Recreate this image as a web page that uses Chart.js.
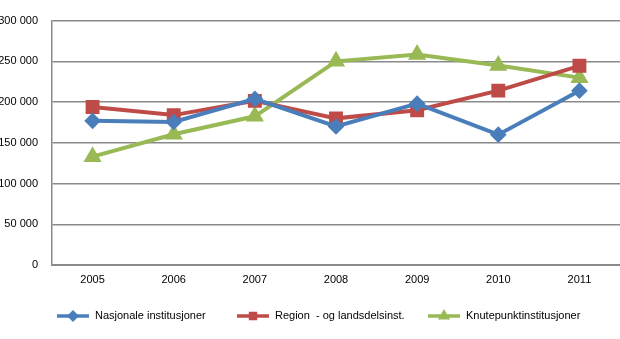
<!DOCTYPE html>
<html lang="no">
<head>
  <meta charset="UTF-8" />
  <title>Institusjoner 2005-2011</title>
  <script src="https://cdn.jsdelivr.net/npm/chart.js"></script>
  <style>
    html, body { margin: 0; padding: 0; background: #fff; }
    #wrap { width: 620px; height: 339px; position: relative; }
  </style>
</head>
<body>
  <div id="wrap"><canvas id="chart"></canvas></div>

  <script>
    // data
    const years = ['2005', '2006', '2007', '2008', '2009', '2010', '2011'];
    const nasjonale = [177000, 175500, 204000, 170000, 198000, 160000, 214000];
    const region = [194000, 184000, 201500, 180000, 190000, 214000, 244500];
    const knutepunkt = [133000, 160500, 182500, 250000, 258500, 245000, 230000];
    const seriesNames = ['Nasjonale institusjoner', 'Region  - og landsdelsinst.', 'Knutepunktinstitusjoner'];
    const yTicks = [0, 50000, 100000, 150000, 200000, 250000, 300000];

    const blue = '#4a7ebb', red = '#be4b48', green = '#98b954';
    const fmt = v => String(v).replace(/\B(?=(\d{3})+(?!\d))/g, ' ');

    // own legend: line with a small marker, like the original
    const legendPlugin = {
      id: 'lineLegend',
      afterDraw(chart) {
        const ctx = chart.ctx;
        const starts = [57, 237, 428];
        const y = 316;
        ctx.save();
        chart.data.datasets.forEach((ds, i) => {
          const x0 = starts[i];
          ctx.strokeStyle = ds.borderColor;
          ctx.lineWidth = 3.5;
          ctx.beginPath();
          ctx.moveTo(x0, y);
          ctx.lineTo(x0 + 32, y);
          ctx.stroke();
          Chart.helpers.drawPoint(ctx, {
            pointStyle: ds.pointStyle, radius: 3.5, rotation: 0, borderWidth: 1
          }, x0 + 16, y);
          ctx.fillStyle = ds.borderColor;
          ctx.fill();
          ctx.fillStyle = '#000';
          ctx.font = '11px "Liberation Sans", Arial, sans-serif';
          ctx.textBaseline = 'middle';
          ctx.fillText(ds.label, x0 + 38, y);
        });
        ctx.restore();
      }
    };

    new Chart(document.getElementById('chart'), {
      type: 'line',
      data: {
        labels: years,
        datasets: [
          { label: seriesNames[0], data: nasjonale, borderColor: blue, backgroundColor: blue,
            pointStyle: 'rectRot', pointRadius: 5.5, borderWidth: 4 },
          { label: seriesNames[1], data: region, borderColor: red, backgroundColor: red,
            pointStyle: 'rect', pointRadius: 7, borderWidth: 4 },
          { label: seriesNames[2], data: knutepunkt, borderColor: green, backgroundColor: green,
            pointStyle: 'triangle', pointRadius: 6.5, borderWidth: 4 }
        ]
      },
      options: {
        responsive: true,
        maintainAspectRatio: false,
        animation: false,
        layout: { autoPadding: false, padding: { left: 0, right: 0, top: 20, bottom: 0 } },
        elements: { line: { tension: 0 }, point: { borderWidth: 1 } },
        plugins: { legend: { display: false }, tooltip: { enabled: false } },
        scales: {
          x: {
            offset: true,
            grid: { display: false, drawTicks: false },
            border: { color: '#8a8a8a', width: 2 },
            ticks: { color: '#000', padding: 8, font: { size: 11, family: '"Liberation Sans", Arial, sans-serif' } },
            afterFit: s => { s.height = 74; }
          },
          y: {
            min: 0,
            max: 300000,
            afterBuildTicks: s => { s.ticks = yTicks.map(v => ({ value: v })); },
            grid: { color: '#8a8a8a', lineWidth: 1.5, drawTicks: false },
            border: { color: '#8a8a8a', width: 1.5 },
            ticks: { color: '#000', padding: 14, callback: v => fmt(v),
                     font: { size: 11, family: '"Liberation Sans", Arial, sans-serif' } },
            afterFit: s => { s.width = 52; }
          }
        }
      },
      plugins: [legendPlugin]
    });
  </script>
</body>
</html>
